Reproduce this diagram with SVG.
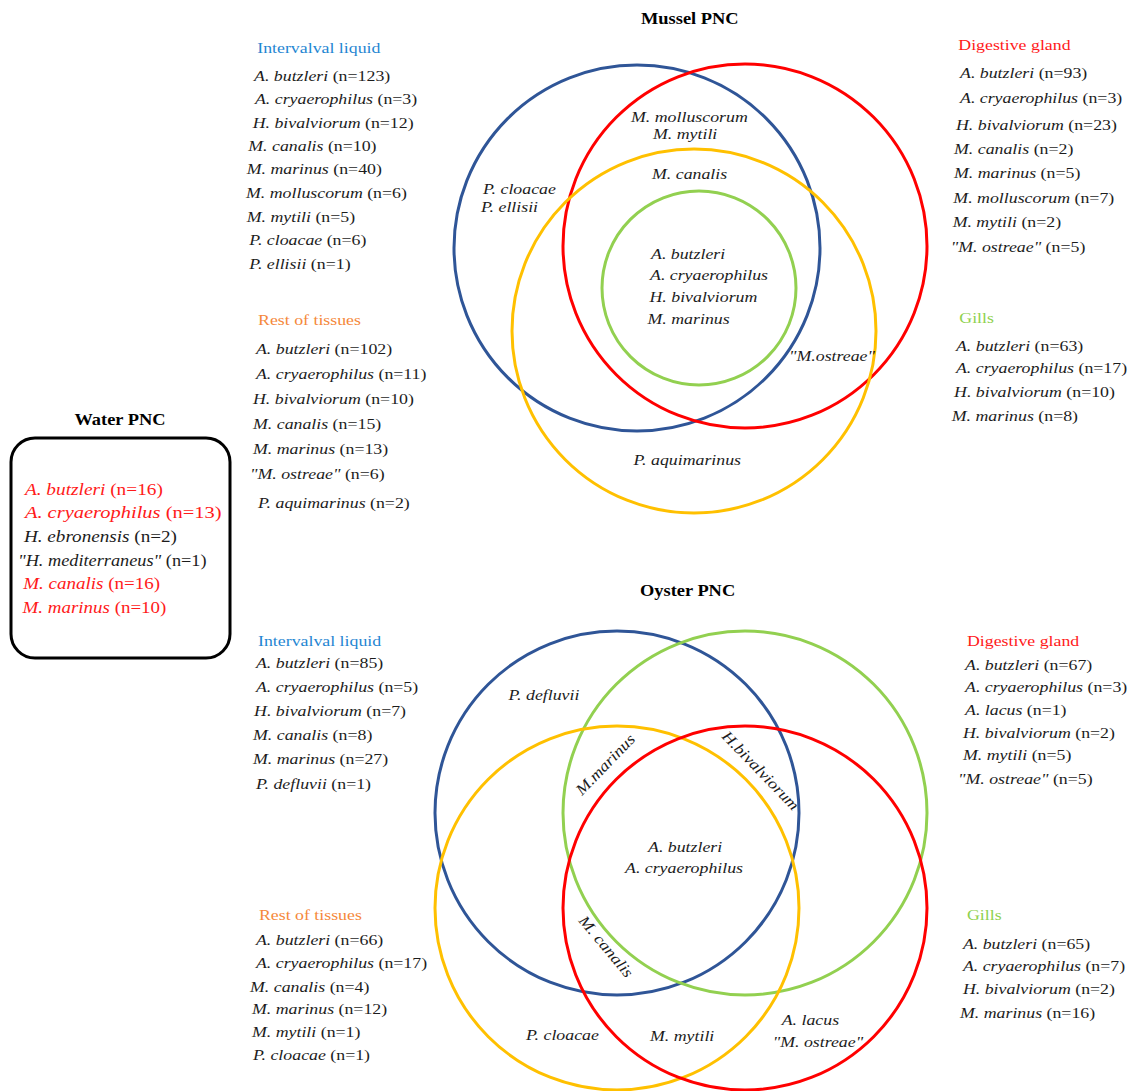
<svg xmlns="http://www.w3.org/2000/svg" width="1134" height="1091" viewBox="0 0 1134 1091">
<style>
text{font-family:"Liberation Serif","Times New Roman",serif;font-size:15.5px;fill:#1c1c1c}
.i{font-style:italic}
.t{font-weight:bold;font-size:16px;fill:#000}
.blue{fill:#1f86d2}.org{fill:#f5883a}.red{fill:#ff1a1a}.grn{fill:#8fd14f}
.rt{fill:#ff1a1a}
.w{font-size:16.3px}
.c{fill:none;stroke-width:3}
.cb{stroke:#2f5597}.cr{stroke:#ff0000}.cy{stroke:#ffc000}.cg{stroke:#92d050}
</style>
<rect width="1134" height="1091" fill="#fff"/>

<!-- Mussel Venn -->
<g id="mussel-circles">
<circle class="c cb" cx="637" cy="248" r="183"/>
<circle class="c cr" cx="745" cy="246" r="182"/>
<circle class="c cy" cx="694" cy="331" r="182"/>
<circle class="c cg" cx="699" cy="288" r="97"/>
</g>
<g id="mussel-title"><text class="t" transform="translate(641,24) scale(1.15,1)">Mussel PNC</text></g>
<g id="mussel-labels">
<text class="i" transform="translate(631,121.5) scale(1.15,1)">M. molluscorum</text>
<text class="i" transform="translate(653,139) scale(1.15,1)">M. mytili</text>
<text class="i" transform="translate(652,179) scale(1.15,1)">M. canalis</text>
<text class="i" transform="translate(483,193.5) scale(1.15,1)">P. cloacae</text>
<text class="i" transform="translate(481,211.5) scale(1.15,1)">P. ellisii</text>
<text class="i" transform="translate(651,258.5) scale(1.15,1)">A. butzleri</text>
<text class="i" transform="translate(650,280) scale(1.15,1)">A. cryaerophilus</text>
<text class="i" transform="translate(649.5,301.5) scale(1.15,1)">H. bivalviorum</text>
<text class="i" transform="translate(647.5,324) scale(1.15,1)">M. marinus</text>
<text class="i" transform="translate(789,360.5) scale(1.15,1)">"M.ostreae"</text>
<text class="i" transform="translate(633.5,465) scale(1.15,1)">P. aquimarinus</text>
</g>

<g id="mussel-intervalval" transform="translate(246,0) scale(1.15,1)">
<text class="blue" x="9.8" y="52.7">Intervalval liquid</text>
<text x="7" y="80.7"><tspan class="i">A. butzleri</tspan> (n=123)</text>
<text x="7.8" y="104"><tspan class="i">A. cryaerophilus</tspan> (n=3)</text>
<text x="5.8" y="127.7"><tspan class="i">H. bivalviorum</tspan> (n=12)</text>
<text x="2" y="151"><tspan class="i">M. canalis</tspan> (n=10)</text>
<text x="0.6" y="174.3"><tspan class="i">M. marinus</tspan> (n=40)</text>
<text x="0" y="198.3"><tspan class="i">M. molluscorum</tspan> (n=6)</text>
<text x="0.6" y="221.7"><tspan class="i">M. mytili</tspan> (n=5)</text>
<text x="2.9" y="245"><tspan class="i">P. cloacae</tspan> (n=6)</text>
<text x="2.9" y="269.3"><tspan class="i">P. ellisii</tspan> (n=1)</text>
</g>

<g id="mussel-rest" transform="translate(250,0) scale(1.15,1)">
<text class="org" x="7" y="325">Rest of tissues</text>
<text x="5.2" y="354"><tspan class="i">A. butzleri</tspan> (n=102)</text>
<text x="5.2" y="379"><tspan class="i">A. cryaerophilus</tspan> (n=11)</text>
<text x="2.6" y="404"><tspan class="i">H. bivalviorum</tspan> (n=10)</text>
<text x="2.6" y="429"><tspan class="i">M. canalis</tspan> (n=15)</text>
<text x="2.6" y="454"><tspan class="i">M. marinus</tspan> (n=13)</text>
<text x="0" y="479"><tspan class="i">"M. ostreae"</tspan> (n=6)</text>
<text x="7" y="508"><tspan class="i">P. aquimarinus</tspan> (n=2)</text>
</g>

<g id="mussel-digestive" transform="translate(950,0) scale(1.15,1)">
<text class="red" x="7.2" y="50">Digestive gland</text>
<text x="8.7" y="78.5"><tspan class="i">A. butzleri</tspan> (n=93)</text>
<text x="8.7" y="103"><tspan class="i">A. cryaerophilus</tspan> (n=3)</text>
<text x="5.2" y="130"><tspan class="i">H. bivalviorum</tspan> (n=23)</text>
<text x="3.5" y="154"><tspan class="i">M. canalis</tspan> (n=2)</text>
<text x="3.5" y="178.5"><tspan class="i">M. marinus</tspan> (n=5)</text>
<text x="2.9" y="203.5"><tspan class="i">M. molluscorum</tspan> (n=7)</text>
<text x="2.3" y="227"><tspan class="i">M. mytili</tspan> (n=2)</text>
<text x="0.6" y="252"><tspan class="i">"M. ostreae"</tspan> (n=5)</text>
</g>

<g id="mussel-gills" transform="translate(950,0) scale(1.15,1)">
<text class="grn" x="8.1" y="323.3">Gills</text>
<text x="5.2" y="351"><tspan class="i">A. butzleri</tspan> (n=63)</text>
<text x="5.2" y="373.5"><tspan class="i">A. cryaerophilus</tspan> (n=17)</text>
<text x="3.5" y="397"><tspan class="i">H. bivalviorum</tspan> (n=10)</text>
<text x="1.5" y="421.5"><tspan class="i">M. marinus</tspan> (n=8)</text>
</g>

<!-- Water -->
<g id="water">
<rect x="11" y="438" width="219" height="220" rx="24" fill="none" stroke="#000" stroke-width="3"/>
<text class="t" text-anchor="middle" transform="translate(120,425) scale(1.15,1)">Water PNC</text>
<g transform="translate(18,0) scale(1.15,1)">
<text class="rt w" x="6" y="495" textLength="120" lengthAdjust="spacingAndGlyphs"><tspan class="i rt">A. butzleri</tspan> (n=16)</text>
<text class="rt w" x="6" y="518.3" textLength="171" lengthAdjust="spacingAndGlyphs"><tspan class="i rt">A. cryaerophilus</tspan> (n=13)</text>
<text class="w" x="5.2" y="541.7" textLength="133" lengthAdjust="spacingAndGlyphs"><tspan class="i">H. ebronensis</tspan> (n=2)</text>
<text class="w" x="0" y="566" textLength="164" lengthAdjust="spacingAndGlyphs"><tspan class="i">"H. mediterraneus"</tspan> (n=1)</text>
<text class="rt w" x="4.6" y="589.3" textLength="119" lengthAdjust="spacingAndGlyphs"><tspan class="i rt">M. canalis</tspan> (n=16)</text>
<text class="rt w" x="4" y="613.3" textLength="125" lengthAdjust="spacingAndGlyphs"><tspan class="i rt">M. marinus</tspan> (n=10)</text>
</g>
</g>

<!-- Oyster Venn -->
<g id="oyster-circles">
<circle class="c cb" cx="617" cy="813" r="182"/>
<circle class="c cg" cx="745" cy="813" r="182"/>
<circle class="c cy" cx="617" cy="908" r="182"/>
<circle class="c cr" cx="745" cy="908" r="182"/>
</g>
<g id="oyster-title"><text class="t" transform="translate(640,596) scale(1.15,1)">Oyster PNC</text></g>
<g id="oyster-labels">
<text class="i" transform="translate(508.5,700) scale(1.15,1)">P. defluvii</text>
<text class="i" transform="translate(582,796) rotate(-46) scale(1.15,1)">M.marinus</text>
<text class="i" transform="translate(721,737) rotate(46) scale(1.15,1)">H.bivalviorum</text>
<text class="i" transform="translate(578,921) rotate(50) scale(1.15,1)">M. canalis</text>
<text class="i" transform="translate(648,851.7) scale(1.15,1)">A. butzleri</text>
<text class="i" transform="translate(625,873.3) scale(1.15,1)">A. cryaerophilus</text>
<text class="i" transform="translate(526,1040) scale(1.15,1)">P. cloacae</text>
<text class="i" transform="translate(650,1041) scale(1.15,1)">M. mytili</text>
<text class="i" transform="translate(781.7,1025) scale(1.15,1)">A. lacus</text>
<text class="i" transform="translate(772.7,1046.7) scale(1.15,1)">"M. ostreae"</text>
</g>

<g id="oyster-intervalval" transform="translate(250,0) scale(1.15,1)">
<text class="blue" x="7" y="646">Intervalval liquid</text>
<text x="5.2" y="668"><tspan class="i">A. butzleri</tspan> (n=85)</text>
<text x="5.2" y="692"><tspan class="i">A. cryaerophilus</tspan> (n=5)</text>
<text x="3.5" y="716"><tspan class="i">H. bivalviorum</tspan> (n=7)</text>
<text x="2.6" y="740"><tspan class="i">M. canalis</tspan> (n=8)</text>
<text x="2.6" y="764"><tspan class="i">M. marinus</tspan> (n=27)</text>
<text x="5.2" y="789"><tspan class="i">P. defluvii</tspan> (n=1)</text>
</g>

<g id="oyster-rest" transform="translate(250,0) scale(1.15,1)">
<text class="org" x="7.8" y="920">Rest of tissues</text>
<text x="5.2" y="945"><tspan class="i">A. butzleri</tspan> (n=66)</text>
<text x="5.2" y="968"><tspan class="i">A. cryaerophilus</tspan> (n=17)</text>
<text x="0" y="992"><tspan class="i">M. canalis</tspan> (n=4)</text>
<text x="1.7" y="1014"><tspan class="i">M. marinus</tspan> (n=12)</text>
<text x="1.7" y="1037"><tspan class="i">M. mytili</tspan> (n=1)</text>
<text x="2.6" y="1060"><tspan class="i">P. cloacae</tspan> (n=1)</text>
</g>

<g id="oyster-digestive" transform="translate(958,0) scale(1.15,1)">
<text class="red" x="7.8" y="646">Digestive gland</text>
<text x="6.1" y="670"><tspan class="i">A. butzleri</tspan> (n=67)</text>
<text x="6.1" y="692"><tspan class="i">A. cryaerophilus</tspan> (n=3)</text>
<text x="6.1" y="715"><tspan class="i">A. lacus</tspan> (n=1)</text>
<text x="4.3" y="738"><tspan class="i">H. bivalviorum</tspan> (n=2)</text>
<text x="4.3" y="760"><tspan class="i">M. mytili</tspan> (n=5)</text>
<text x="0" y="784"><tspan class="i">"M. ostreae"</tspan> (n=5)</text>
</g>

<g id="oyster-gills" transform="translate(958,0) scale(1.15,1)">
<text class="grn" x="7.8" y="920">Gills</text>
<text x="4.3" y="949"><tspan class="i">A. butzleri</tspan> (n=65)</text>
<text x="4.3" y="971"><tspan class="i">A. cryaerophilus</tspan> (n=7)</text>
<text x="4.3" y="994"><tspan class="i">H. bivalviorum</tspan> (n=2)</text>
<text x="1.7" y="1018"><tspan class="i">M. marinus</tspan> (n=16)</text>
</g>

<g id="connectors"/>
</svg>
